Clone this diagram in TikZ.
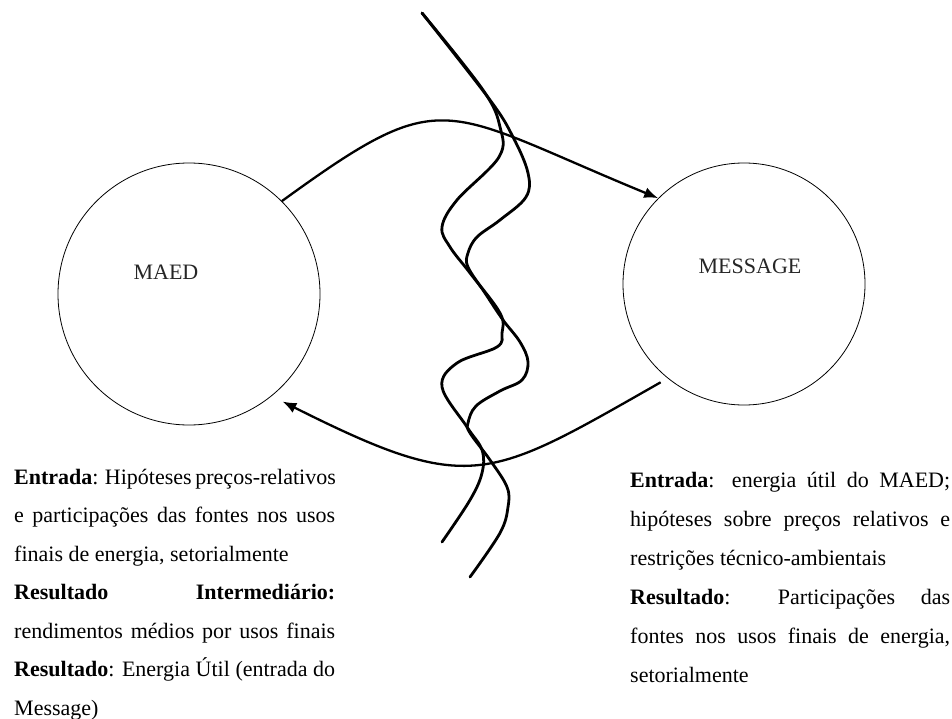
\documentclass[tikz,border=0pt]{standalone}
\usepackage{fontspec}
\setmainfont{Liberation Serif}
\usetikzlibrary{arrows.meta}
\newcommand\jlL[1]{\makebox[321pt][s]{#1}}
\newcommand\jlR[1]{\makebox[320pt][s]{#1}}
\begin{document}
\begin{tikzpicture}[x=1pt,y=-1pt,
  blob/.style={circle,draw,line width=0.8pt,inner sep=0pt},
  flow/.style={line width=2.3pt,-{Latex[length=14pt,width=11pt]}},
  wave/.style={line width=2.8pt,line cap=round,line join=round},
  txt/.style={font=\fontsize{22}{26}\selectfont,inner sep=0pt,anchor=base west},
  lbl/.style={font=\fontsize{22}{26}\selectfont,inner sep=0pt,text=black!85}]
\useasboundingbox (0,0) rectangle (952,719);
% circles
\node[blob,minimum size=262pt] (maed) at (189,294) {};
\node[blob,minimum size=242pt] (message) at (744,284) {};
\node[lbl] (maedlbl) at (166,272) {MAED};
\node[lbl] (msglbl) at (750,266) {MESSAGE};
% arrows
\draw[flow] (maed.45) .. controls (446,82) and (439,108) .. (message.135);
\draw[flow,shorten <=8pt,shorten >=12pt] (message.231) .. controls (487,481) and (471,496) .. (maed.309);
% wavy lines
\draw[wave] plot[smooth,tension=0.6] coordinates {(422,13) (483,90) (500,127) (499,157) (457,200) (442,227) (450,247) (470,273) (500,313) (502,333) (497,347) (457,363) (442,387) (467,427) (482,450) (482,473) (470,500) (442,542)};
\draw[wave] plot[smooth,tension=0.6] coordinates {(422,13) (490,100) (513,137) (528,173) (526,197) (500,220) (477,237) (468,253) (468,267) (485,293) (503,320) (520,342) (528,362) (522,380) (500,391) (476,406) (468,423) (470,433) (490,460) (507,487) (508,507) (500,533) (470,577)};
% left text
\node[txt] (l1) at (14,484) {\jlL{\textbf{Entrada}: Hipóteses preços-relativos}};
\node[txt] (l2) at (14,522.5) {\jlL{e participações das fontes nos usos}};
\node[txt] (l3) at (14,561) {finais de energia, setorialmente};
\node[txt] (l4) at (14,599.5) {\jlL{\textbf{Resultado} \textbf{Intermediário:}}};
\node[txt] (l5) at (14,638) {\jlL{rendimentos médios por usos finais}};
\node[txt] (l6) at (14,676.5) {\jlL{\textbf{Resultado}: Energia Útil (entrada do}};
\node[txt] (l7) at (14,715) {Message)};
% right text
\node[txt] (r1) at (630,487) {\jlR{\textbf{Entrada}: energia útil do MAED;}};
\node[txt] (r2) at (630,526) {\jlR{hipóteses sobre preços relativos e}};
\node[txt] (r3) at (630,565) {restrições técnico-ambientais};
\node[txt] (r4) at (630,604) {\jlR{\textbf{Resultado}: Participações das}};
\node[txt] (r5) at (630,643) {\jlR{fontes nos usos finais de energia,}};
\node[txt] (r6) at (630,682) {setorialmente};
\end{tikzpicture}
\end{document}
